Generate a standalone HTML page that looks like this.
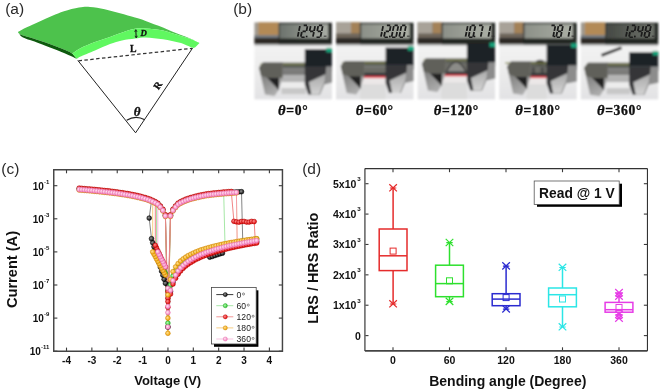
<!DOCTYPE html>
<html><head><meta charset="utf-8"><style>
#w{will-change:transform;position:absolute;left:0;top:0;}
html,body{margin:0;padding:0;background:#fff;width:660px;height:391px;overflow:hidden;font-family:"Liberation Sans", sans-serif;}
svg{display:block;}
</style></head><body><div id="w">
<svg width="660" height="391" viewBox="0 0 660 391" font-family='"Liberation Sans", sans-serif'><defs><filter id="blur1" x="-5%" y="-5%" width="110%" height="110%"><feGaussianBlur stdDeviation="0.9"/></filter><filter id="blur2" x="-5%" y="-5%" width="110%" height="110%"><feGaussianBlur stdDeviation="0.45"/></filter></defs><rect width="660" height="391" fill="#fff"/><text x="5.2" y="14.3" font-size="15.5" fill="#2a2a2a">(a)</text><path d="M17.80,32.00 C19.30,31.22 23.17,29.05 26.80,27.30 C30.43,25.55 35.33,23.42 39.60,21.50 C43.87,19.58 48.33,17.50 52.40,15.80 C56.47,14.10 59.57,12.67 64.00,11.30 C68.43,9.93 74.67,8.32 79.00,7.60 C83.33,6.88 85.72,6.72 90.00,7.00 C94.28,7.28 99.70,8.25 104.70,9.30 C109.70,10.35 114.95,11.92 120.00,13.30 C125.05,14.68 130.83,16.37 135.00,17.60 C139.17,18.83 141.83,19.58 145.00,20.70 C148.17,21.82 151.00,23.17 154.00,24.30 C157.00,25.43 160.00,26.30 163.00,27.50 C166.00,28.70 169.00,30.23 172.00,31.50 C175.00,32.77 177.88,33.88 181.00,35.10 C184.12,36.32 187.62,37.48 190.70,38.80 C193.78,40.12 198.03,42.30 199.50,43.00  C198.03,42.35 193.78,40.27 190.70,39.10 C187.62,37.93 184.12,36.97 181.00,36.00 C177.88,35.03 175.00,34.20 172.00,33.30 C169.00,32.40 166.00,31.28 163.00,30.60 C160.00,29.92 157.00,29.57 154.00,29.20 C151.00,28.83 148.17,28.47 145.00,28.40 C141.83,28.33 138.33,28.27 135.00,28.80 C131.67,29.33 129.17,30.25 125.00,31.60 C120.83,32.95 115.00,35.17 110.00,36.90 C105.00,38.63 100.00,40.08 95.00,42.00 C90.00,43.92 83.78,46.48 80.00,48.40 C76.22,50.32 73.58,52.65 72.30,53.50  C70.92,52.83 69.45,51.67 64.00,49.50 C58.55,47.33 46.65,42.92 39.60,40.50 C32.55,38.08 25.33,36.42 21.70,35.00 C18.07,33.58 18.45,32.50 17.80,32.00 Z" fill="#4dc24c"/><path d="M17.80,32.00 C18.45,32.50 18.07,33.58 21.70,35.00 C25.33,36.42 32.55,38.08 39.60,40.50 C46.65,42.92 58.55,47.33 64.00,49.50 C69.45,51.67 70.92,52.83 72.30,53.50 L77,59  C74.83,58.00 70.23,55.60 64.00,53.00 C57.77,50.40 46.43,45.98 39.60,43.40 C32.77,40.82 26.38,39.10 23.00,37.50 C19.62,35.90 20.17,34.72 19.30,33.80 C18.43,32.88 18.05,32.30 17.80,32.00 Z" fill="#0e5a0e"/><path d="M72.30,53.50 C73.58,52.65 76.22,50.32 80.00,48.40 C83.78,46.48 90.00,43.92 95.00,42.00 C100.00,40.08 105.00,38.63 110.00,36.90 C115.00,35.17 120.83,32.95 125.00,31.60 C129.17,30.25 131.67,29.33 135.00,28.80 C138.33,28.27 141.83,28.33 145.00,28.40 C148.17,28.47 151.00,28.83 154.00,29.20 C157.00,29.57 160.00,29.92 163.00,30.60 C166.00,31.28 169.00,32.40 172.00,33.30 C175.00,34.20 177.88,35.03 181.00,36.00 C184.12,36.97 187.62,37.93 190.70,39.10 C193.78,40.27 198.03,42.35 199.50,43.00 L195.3,47.3 L193.5,47.9  C193.07,47.80 192.98,48.10 190.90,47.30 C188.82,46.50 184.15,44.17 181.00,43.10 C177.85,42.03 175.00,41.55 172.00,40.90 C169.00,40.25 166.00,39.65 163.00,39.20 C160.00,38.75 157.00,38.50 154.00,38.20 C151.00,37.90 148.17,37.35 145.00,37.40 C141.83,37.45 138.83,37.98 135.00,38.50 C131.17,39.02 126.17,39.58 122.00,40.50 C117.83,41.42 114.50,42.35 110.00,44.00 C105.50,45.65 100.00,48.27 95.00,50.40 C90.00,52.53 83.00,55.37 80.00,56.80 C77.00,58.23 77.50,58.63 77.00,59.00 Z" fill="#60f860"/><line x1="78.5" y1="60.8" x2="192.3" y2="48.3" stroke="#333" stroke-width="1.25" stroke-dasharray="3.5,2.4"/><polyline points="77.8,60.4 135.6,132.8 192.5,48.2" fill="none" stroke="#222" stroke-width="1"/><path d="M126.7,120.2 Q135.6,114.6 144.8,119.8" fill="none" stroke="#222" stroke-width="1.2"/><text x="137" y="115.6" font-family='"Liberation Serif", serif' font-style="italic" font-weight="bold" font-size="13" text-anchor="middle" fill="#111" stroke="#111" stroke-width="0.35">&#952;</text><text x="0" y="0" transform="translate(160.5,87.3) rotate(-56)" font-family='"Liberation Serif", serif' font-weight="bold" font-size="10" text-anchor="middle" fill="#111" stroke="#111" stroke-width="0.3">R</text><text x="133.3" y="51.5" font-family='"Liberation Serif", serif' font-weight="bold" font-size="9.8" text-anchor="middle" fill="#111" stroke="#111" stroke-width="0.3">L</text><text x="143.8" y="36.1" font-family='"Liberation Serif", serif' font-style="italic" font-weight="bold" font-size="8.8" text-anchor="middle" fill="#111" stroke="#111" stroke-width="0.3">D</text><line x1="135.8" y1="30.2" x2="136.2" y2="37.2" stroke="#111" stroke-width="1"/><path d="M134.6,31.8 L135.8,29.6 L137,31.8 M135,35.8 L136.2,38 L137.4,35.8" fill="none" stroke="#111" stroke-width="0.8"/><text x="233.2" y="14.3" font-size="15.5" fill="#2a2a2a">(b)</text><g filter="url(#blur1)"><g transform="translate(254.4,22.4)"><defs><linearGradient id="lcdg254" x1="0" x2="1" y1="0" y2="0"><stop offset="0" stop-color="#6c726c"/><stop offset="1" stop-color="#a8aca4"/></linearGradient><linearGradient id="jl254" x1="0" x2="0.4" y1="0" y2="1"><stop offset="0" stop-color="#666664"/><stop offset="1" stop-color="#ababab"/></linearGradient><linearGradient id="jr254" x1="0" x2="0" y1="0" y2="1"><stop offset="0" stop-color="#a8a8a8"/><stop offset="1" stop-color="#d4d4d4"/></linearGradient><linearGradient id="bg254" x1="0" x2="0" y1="0" y2="1"><stop offset="0" stop-color="#f4f4f4"/><stop offset="0.5" stop-color="#ececec"/><stop offset="1" stop-color="#e2e2e4"/></linearGradient></defs><rect x="0" y="18" width="77.5" height="59" fill="url(#bg254)"/><rect x="0" y="0" width="25" height="20" fill="#a09a90"/><rect x="4" y="0" width="20" height="12.8" fill="#b38a56"/><rect x="0" y="12.8" width="25" height="3.2" fill="#747a80"/><rect x="0" y="15.5" width="25" height="6.2" fill="#2e2a26"/><rect x="0" y="21.7" width="77.5" height="1.6" fill="#b0b0b0"/><rect x="24.3" y="0.3" width="53.2" height="21.6" fill="#232523"/><rect x="25.2" y="1.8" width="48.5" height="14.3" fill="url(#lcdg254)"/><rect x="27.1" y="40.2" width="24.299999999999997" height="5.5" fill="#5c5e58"/><rect x="27.1" y="45.7" width="24.299999999999997" height="7" fill="#7c7c7a"/><rect x="27.1" y="52.7" width="24.299999999999997" height="7" fill="#b4b4b4"/><rect x="27.1" y="59.7" width="24.299999999999997" height="6" fill="#ececec"/><rect x="27.1" y="65.7" width="24.299999999999997" height="6" fill="#c8c8c8"/><rect x="6" y="41.2" width="44.4" height="1.2" fill="#7c8040"/><polygon points="4.600000000000001,45.2 8.600000000000001,40.2 28.1,40.2 28.1,55.400000000000006 24.1,67.80000000000001 20.1,73.7 10.600000000000001,72.2" fill="url(#jl254)"/><polygon points="4.600000000000001,45.2 8.600000000000001,40.2 28.1,40.2 28.1,55.400000000000006 12.8,55.400000000000006 6.600000000000001,53.2" fill="#60605a"/><polygon points="12.8,55.400000000000006 24.6,55.400000000000006 24.6,67.80000000000001" fill="#222"/><polygon points="50.4,43.7 77.5,43.7 77.5,48.2 71.4,58.2 65.4,72.2 53.9,72.2 50.4,62.2" fill="#353637"/><polygon points="71.9,43.7 77.5,43.7 77.5,60.2 70.4,62.2" fill="#8c8c8c"/><polygon points="54.4,59.7 71.4,51.7 70.4,59.2 64.9,72.2 56.9,72.2" fill="url(#jr254)"/><rect x="50.4" y="26.8" width="27.1" height="17.2" fill="#1d2226"/><rect x="71.9" y="25.5" width="5.6" height="4.4" fill="#17a37b"/></g><g transform="translate(336,22.4)"><defs><linearGradient id="lcdg336" x1="0" x2="1" y1="0" y2="0"><stop offset="0" stop-color="#8c9088"/><stop offset="1" stop-color="#abafa5"/></linearGradient><linearGradient id="jl336" x1="0" x2="0.4" y1="0" y2="1"><stop offset="0" stop-color="#666664"/><stop offset="1" stop-color="#ababab"/></linearGradient><linearGradient id="jr336" x1="0" x2="0" y1="0" y2="1"><stop offset="0" stop-color="#a8a8a8"/><stop offset="1" stop-color="#d4d4d4"/></linearGradient><linearGradient id="bg336" x1="0" x2="0" y1="0" y2="1"><stop offset="0" stop-color="#f4f4f4"/><stop offset="0.5" stop-color="#ececec"/><stop offset="1" stop-color="#e2e2e4"/></linearGradient></defs><rect x="0" y="18" width="77.5" height="59" fill="url(#bg336)"/><rect x="0" y="0" width="25" height="20" fill="#6e665c"/><rect x="0" y="0" width="15" height="11" fill="#a8a298"/><rect x="15" y="0" width="8.5" height="11" fill="#a48258"/><rect x="0" y="15.5" width="25" height="6.2" fill="#2e2a26"/><rect x="0" y="21.7" width="77.5" height="1.6" fill="#b0b0b0"/><rect x="24.3" y="0.3" width="53.2" height="21.6" fill="#232523"/><rect x="25.2" y="1.8" width="48.5" height="14.3" fill="url(#lcdg336)"/><rect x="27.2" y="38.7" width="23.400000000000002" height="5.5" fill="#5c5e58"/><rect x="27.2" y="44.2" width="23.400000000000002" height="9.699999999999996" fill="#6c6c66"/><rect x="27.2" y="50.4" width="23.400000000000002" height="3.5" fill="#38393a"/><rect x="24.2" y="53.9" width="25.400000000000002" height="1.9" fill="#ec2a3a"/><rect x="24.2" y="55.8" width="25.400000000000002" height="6" fill="#ece8e8"/><rect x="24.2" y="61.8" width="25.400000000000002" height="15.100000000000001" fill="#dcdcdc"/><rect x="6" y="39.7" width="43.6" height="1.2" fill="#7c8040"/><polygon points="4.699999999999999,43.7 8.7,38.7 28.2,38.7 28.2,53.900000000000006 24.2,66.30000000000001 20.2,72.2 10.7,70.7" fill="url(#jl336)"/><polygon points="4.699999999999999,43.7 8.7,38.7 28.2,38.7 28.2,53.900000000000006 12.899999999999999,53.900000000000006 6.699999999999999,51.7" fill="#60605a"/><polygon points="12.899999999999999,53.900000000000006 24.7,53.900000000000006 24.7,66.30000000000001" fill="#222"/><polygon points="49.6,42.2 77.5,42.2 77.5,46.7 70.6,56.7 64.6,70.7 53.1,70.7 49.6,60.7" fill="#353637"/><polygon points="71.1,42.2 77.5,42.2 77.5,58.7 69.6,60.7" fill="#8c8c8c"/><polygon points="53.6,58.2 70.6,50.2 69.6,57.7 64.1,70.7 56.1,70.7" fill="url(#jr336)"/><rect x="49.6" y="25.2" width="27.9" height="17.3" fill="#1d2226"/><rect x="71.9" y="23.9" width="5.6" height="4.4" fill="#17a37b"/></g><g transform="translate(417.6,22.4)"><defs><linearGradient id="lcdg417" x1="0" x2="1" y1="0" y2="0"><stop offset="0" stop-color="#8c9088"/><stop offset="1" stop-color="#abafa5"/></linearGradient><linearGradient id="jl417" x1="0" x2="0.4" y1="0" y2="1"><stop offset="0" stop-color="#666664"/><stop offset="1" stop-color="#ababab"/></linearGradient><linearGradient id="jr417" x1="0" x2="0" y1="0" y2="1"><stop offset="0" stop-color="#a8a8a8"/><stop offset="1" stop-color="#d4d4d4"/></linearGradient><linearGradient id="bg417" x1="0" x2="0" y1="0" y2="1"><stop offset="0" stop-color="#f4f4f4"/><stop offset="0.5" stop-color="#ececec"/><stop offset="1" stop-color="#e2e2e4"/></linearGradient></defs><rect x="0" y="18" width="77.5" height="59" fill="url(#bg417)"/><rect x="0" y="0" width="25" height="20" fill="#6e665c"/><rect x="0" y="0" width="15" height="11" fill="#a8a298"/><rect x="15" y="0" width="8.5" height="11" fill="#a48258"/><rect x="0" y="15.5" width="25" height="6.2" fill="#2e2a26"/><rect x="0" y="21.7" width="77.5" height="1.6" fill="#b0b0b0"/><rect x="24.3" y="0.3" width="53.2" height="21.6" fill="#232523"/><rect x="25.2" y="1.8" width="48.5" height="14.3" fill="url(#lcdg417)"/><rect x="26.8" y="36" width="23.499999999999996" height="5.5" fill="#5c5e58"/><rect x="26.8" y="41.5" width="23.499999999999996" height="10.700000000000003" fill="#6c6c66"/><rect x="26.8" y="48.7" width="23.499999999999996" height="3.5" fill="#38393a"/><path d="M28.8,49.2 Q38.55,30 48.3,49.2" fill="#8c8c88" stroke="#3a3a3a" stroke-width="1.4"/><rect x="23.8" y="52.2" width="25.499999999999996" height="1.9" fill="#ec2a3a"/><rect x="23.8" y="54.1" width="25.499999999999996" height="6" fill="#ece8e8"/><rect x="23.8" y="60.1" width="25.499999999999996" height="16.799999999999997" fill="#dcdcdc"/><rect x="6" y="37" width="43.3" height="1.2" fill="#7c8040"/><polygon points="4.300000000000001,41 8.3,36 27.8,36 27.8,51.2 23.8,63.6 19.8,69.5 10.3,68" fill="url(#jl417)"/><polygon points="4.300000000000001,41 8.3,36 27.8,36 27.8,51.2 12.5,51.2 6.300000000000001,49" fill="#60605a"/><polygon points="12.5,51.2 24.3,51.2 24.3,63.6" fill="#222"/><polygon points="49.3,39.5 77.5,39.5 77.5,44 70.3,54 64.3,68 52.8,68 49.3,58" fill="#353637"/><polygon points="70.8,39.5 77.5,39.5 77.5,56 69.3,58" fill="#8c8c8c"/><polygon points="53.3,55.5 70.3,47.5 69.3,55 63.8,68 55.8,68" fill="url(#jr417)"/><rect x="49.3" y="21.4" width="28.200000000000003" height="18.4" fill="#1d2226"/><rect x="71.9" y="20.099999999999998" width="5.6" height="4.4" fill="#17a37b"/></g><g transform="translate(499.2,22.4)"><defs><linearGradient id="lcdg499" x1="0" x2="1" y1="0" y2="0"><stop offset="0" stop-color="#8c9088"/><stop offset="1" stop-color="#abafa5"/></linearGradient><linearGradient id="jl499" x1="0" x2="0.4" y1="0" y2="1"><stop offset="0" stop-color="#666664"/><stop offset="1" stop-color="#ababab"/></linearGradient><linearGradient id="jr499" x1="0" x2="0" y1="0" y2="1"><stop offset="0" stop-color="#a8a8a8"/><stop offset="1" stop-color="#d4d4d4"/></linearGradient><linearGradient id="bg499" x1="0" x2="0" y1="0" y2="1"><stop offset="0" stop-color="#f4f4f4"/><stop offset="0.5" stop-color="#ececec"/><stop offset="1" stop-color="#e2e2e4"/></linearGradient></defs><rect x="0" y="18" width="77.5" height="59" fill="url(#bg499)"/><rect x="0" y="0" width="25" height="20" fill="#6e665c"/><rect x="0" y="0" width="15" height="11" fill="#a8a298"/><rect x="15" y="0" width="8.5" height="11" fill="#a48258"/><rect x="0" y="15.5" width="25" height="6.2" fill="#2e2a26"/><rect x="0" y="21.7" width="77.5" height="1.6" fill="#b0b0b0"/><rect x="24.3" y="0.3" width="53.2" height="21.6" fill="#232523"/><rect x="25.2" y="1.8" width="48.5" height="14.3" fill="url(#lcdg499)"/><rect x="30.4" y="39.1" width="18.0" height="5.5" fill="#5c5e58"/><rect x="30.4" y="44.6" width="18.0" height="9.399999999999999" fill="#6c6c66"/><rect x="30.4" y="50.5" width="18.0" height="3.5" fill="#38393a"/><ellipse cx="40.9" cy="39.9" rx="4.5" ry="2.6" fill="#3c3c3a"/><rect x="32.4" y="45.1" width="3.5" height="5.899999999999999" fill="#3a3a3a" opacity="0.6"/><rect x="41.4" y="45.1" width="3.5" height="5.899999999999999" fill="#3a3a3a" opacity="0.6"/><rect x="27.4" y="54" width="20.0" height="1.9" fill="#ec2a3a"/><rect x="27.4" y="55.9" width="20.0" height="6" fill="#ece8e8"/><rect x="27.4" y="61.9" width="20.0" height="15" fill="#dcdcdc"/><rect x="6" y="40.1" width="41.4" height="1.2" fill="#7c8040"/><polygon points="7.899999999999999,44.1 11.899999999999999,39.1 31.4,39.1 31.4,54.3 27.4,66.7 23.4,72.6 13.899999999999999,71.1" fill="url(#jl499)"/><polygon points="7.899999999999999,44.1 11.899999999999999,39.1 31.4,39.1 31.4,54.3 16.099999999999998,54.3 9.899999999999999,52.1" fill="#60605a"/><polygon points="16.099999999999998,54.3 27.9,54.3 27.9,66.7" fill="#222"/><polygon points="47.4,42.6 77.5,42.6 77.5,47.1 68.4,57.1 62.4,71.1 50.9,71.1 47.4,61.1" fill="#353637"/><polygon points="68.9,42.6 77.5,42.6 77.5,59.1 67.4,61.1" fill="#8c8c8c"/><polygon points="51.4,58.6 68.4,50.6 67.4,58.1 61.9,71.1 53.9,71.1" fill="url(#jr499)"/><rect x="47.4" y="22.2" width="30.1" height="20.7" fill="#1d2226"/><rect x="71.9" y="20.9" width="5.6" height="4.4" fill="#17a37b"/></g><g transform="translate(580.8,22.4)"><defs><linearGradient id="lcdg580" x1="0" x2="1" y1="0" y2="0"><stop offset="0" stop-color="#454944"/><stop offset="1" stop-color="#6e726a"/></linearGradient><linearGradient id="jl580" x1="0" x2="0.4" y1="0" y2="1"><stop offset="0" stop-color="#666664"/><stop offset="1" stop-color="#ababab"/></linearGradient><linearGradient id="jr580" x1="0" x2="0" y1="0" y2="1"><stop offset="0" stop-color="#a8a8a8"/><stop offset="1" stop-color="#d4d4d4"/></linearGradient><linearGradient id="bg580" x1="0" x2="0" y1="0" y2="1"><stop offset="0" stop-color="#f4f4f4"/><stop offset="0.5" stop-color="#ececec"/><stop offset="1" stop-color="#e2e2e4"/></linearGradient></defs><rect x="0" y="18" width="77.5" height="59" fill="url(#bg580)"/><rect x="0" y="0" width="25" height="20" fill="#a09a90"/><rect x="4" y="0" width="20" height="12.8" fill="#b38a56"/><rect x="0" y="12.8" width="25" height="3.2" fill="#747a80"/><rect x="0" y="15.5" width="25" height="6.2" fill="#2e2a26"/><rect x="0" y="21.7" width="77.5" height="1.6" fill="#b0b0b0"/><rect x="24.3" y="0.3" width="53.2" height="21.6" fill="#232523"/><rect x="25.2" y="1.8" width="48.5" height="14.3" fill="url(#lcdg580)"/><rect x="25.8" y="40.3" width="23.599999999999998" height="5.5" fill="#5c5e58"/><rect x="25.8" y="45.8" width="23.599999999999998" height="7" fill="#7c7c7a"/><rect x="25.8" y="52.8" width="23.599999999999998" height="7" fill="#b4b4b4"/><rect x="25.8" y="59.8" width="23.599999999999998" height="6" fill="#ececec"/><rect x="25.8" y="65.8" width="23.599999999999998" height="6" fill="#c8c8c8"/><rect x="6" y="41.3" width="42.4" height="1.2" fill="#7c8040"/><polygon points="3.3000000000000007,45.3 7.300000000000001,40.3 26.8,40.3 26.8,55.5 22.8,67.9 18.8,73.8 9.3,72.3" fill="url(#jl580)"/><polygon points="3.3000000000000007,45.3 7.300000000000001,40.3 26.8,40.3 26.8,55.5 11.5,55.5 5.300000000000001,53.3" fill="#60605a"/><polygon points="11.5,55.5 23.3,55.5 23.3,67.9" fill="#222"/><polygon points="48.4,43.8 77.5,43.8 77.5,48.3 69.4,58.3 63.4,72.3 51.9,72.3 48.4,62.3" fill="#353637"/><polygon points="69.9,43.8 77.5,43.8 77.5,60.3 68.4,62.3" fill="#8c8c8c"/><polygon points="52.4,59.8 69.4,51.8 68.4,59.3 62.9,72.3 54.9,72.3" fill="url(#jr580)"/><rect x="48.4" y="29.9" width="29.1" height="14.199999999999996" fill="#1d2226"/><rect x="71.9" y="28.599999999999998" width="5.6" height="4.4" fill="#17a37b"/><line x1="20.7" y1="33" x2="40.7" y2="25.3" stroke="#262626" stroke-width="2.8"/></g></g><g filter="url(#blur2)"><g transform="translate(254.4,22.4)"><rect x="69.30000000000001" y="13.1" width="2.8" height="1.4" fill="#333" opacity="0.7"/><path d="M45.48,3.70L44.54,8.40M44.30,9.60L43.36,14.30" stroke="#1a1a1a" stroke-width="1.75" fill="none" stroke-linecap="butt"/><path d="M49.30,3.10L52.60,3.10M53.08,3.70L52.14,8.40M48.12,9.00L51.42,9.00M47.40,9.60L46.46,14.30M46.94,14.90L50.24,14.90" stroke="#1a1a1a" stroke-width="1.75" fill="none" stroke-linecap="butt"/><rect x="51.44" y="13.30" width="1.6" height="1.6" fill="#141414"/><path d="M56.18,3.70L55.24,8.40M55.72,9.00L59.02,9.00M60.68,3.70L59.74,8.40M59.50,9.60L58.56,14.30" stroke="#1a1a1a" stroke-width="1.75" fill="none" stroke-linecap="butt"/><path d="M64.50,3.10L67.80,3.10M68.28,3.70L67.34,8.40M67.10,9.60L66.16,14.30M62.14,14.90L65.44,14.90M63.78,3.70L62.84,8.40M63.32,9.00L66.62,9.00" stroke="#1a1a1a" stroke-width="1.75" fill="none" stroke-linecap="butt"/></g><g transform="translate(336,22.4)"><rect x="70.9" y="13.1" width="2.8" height="1.4" fill="#333" opacity="0.7"/><path d="M47.08,3.70L46.14,8.40M45.90,9.60L44.96,14.30" stroke="#1a1a1a" stroke-width="1.75" fill="none" stroke-linecap="butt"/><path d="M50.90,3.10L54.20,3.10M54.68,3.70L53.74,8.40M49.72,9.00L53.02,9.00M49.00,9.60L48.06,14.30M48.54,14.90L51.84,14.90" stroke="#1a1a1a" stroke-width="1.75" fill="none" stroke-linecap="butt"/><rect x="53.04" y="13.30" width="1.6" height="1.6" fill="#141414"/><path d="M58.50,3.10L61.80,3.10M62.28,3.70L61.34,8.40M61.10,9.60L60.16,14.30M56.14,14.90L59.44,14.90M56.60,9.60L55.66,14.30M57.78,3.70L56.84,8.40" stroke="#1a1a1a" stroke-width="1.75" fill="none" stroke-linecap="butt"/><path d="M66.10,3.10L69.40,3.10M69.88,3.70L68.94,8.40M68.70,9.60L67.76,14.30M63.74,14.90L67.04,14.90M64.20,9.60L63.26,14.30M65.38,3.70L64.44,8.40" stroke="#1a1a1a" stroke-width="1.75" fill="none" stroke-linecap="butt"/></g><g transform="translate(417.6,22.4)"><rect x="73.9" y="13.1" width="2.8" height="1.4" fill="#333" opacity="0.7"/><path d="M50.08,3.70L49.14,8.40M48.90,9.60L47.96,14.30" stroke="#1a1a1a" stroke-width="1.75" fill="none" stroke-linecap="butt"/><path d="M53.90,3.10L57.20,3.10M57.68,3.70L56.74,8.40M56.50,9.60L55.56,14.30M51.54,14.90L54.84,14.90M52.00,9.60L51.06,14.30M53.18,3.70L52.24,8.40" stroke="#1a1a1a" stroke-width="1.75" fill="none" stroke-linecap="butt"/><rect x="56.04" y="13.30" width="1.6" height="1.6" fill="#141414"/><path d="M61.50,3.10L64.80,3.10M65.28,3.70L64.34,8.40M64.10,9.60L63.16,14.30" stroke="#1a1a1a" stroke-width="1.75" fill="none" stroke-linecap="butt"/><path d="M72.88,3.70L71.94,8.40M71.70,9.60L70.76,14.30" stroke="#1a1a1a" stroke-width="1.75" fill="none" stroke-linecap="butt"/></g><g transform="translate(499.2,22.4)"><rect x="72.30000000000001" y="13.1" width="2.8" height="1.4" fill="#333" opacity="0.7"/><path d="M52.30,3.10L55.60,3.10M56.08,3.70L55.14,8.40M54.90,9.60L53.96,14.30" stroke="#1a1a1a" stroke-width="1.75" fill="none" stroke-linecap="butt"/><rect x="54.44" y="13.30" width="1.6" height="1.6" fill="#141414"/><path d="M59.90,3.10L63.20,3.10M63.68,3.70L62.74,8.40M62.50,9.60L61.56,14.30M57.54,14.90L60.84,14.90M58.00,9.60L57.06,14.30M59.18,3.70L58.24,8.40M58.72,9.00L62.02,9.00" stroke="#1a1a1a" stroke-width="1.75" fill="none" stroke-linecap="butt"/><path d="M71.28,3.70L70.34,8.40M70.10,9.60L69.16,14.30" stroke="#1a1a1a" stroke-width="1.75" fill="none" stroke-linecap="butt"/></g><g transform="translate(580.8,22.4)"><rect x="71.10000000000001" y="13.1" width="2.8" height="1.4" fill="#333" opacity="0.7"/><path d="M47.28,3.70L46.34,8.40M46.10,9.60L45.16,14.30" stroke="#1a1a1a" stroke-width="1.75" fill="none" stroke-linecap="butt"/><path d="M51.10,3.10L54.40,3.10M54.88,3.70L53.94,8.40M49.92,9.00L53.22,9.00M49.20,9.60L48.26,14.30M48.74,14.90L52.04,14.90" stroke="#1a1a1a" stroke-width="1.75" fill="none" stroke-linecap="butt"/><rect x="53.24" y="13.30" width="1.6" height="1.6" fill="#141414"/><path d="M57.98,3.70L57.04,8.40M57.52,9.00L60.82,9.00M62.48,3.70L61.54,8.40M61.30,9.60L60.36,14.30" stroke="#1a1a1a" stroke-width="1.75" fill="none" stroke-linecap="butt"/><path d="M66.30,3.10L69.60,3.10M70.08,3.70L69.14,8.40M68.90,9.60L67.96,14.30M63.94,14.90L67.24,14.90M64.40,9.60L63.46,14.30M65.58,3.70L64.64,8.40M65.12,9.00L68.42,9.00" stroke="#1a1a1a" stroke-width="1.75" fill="none" stroke-linecap="butt"/></g></g><text x="293.15" y="114.8" font-family='"Liberation Serif", serif' font-size="13.6" font-weight="bold" text-anchor="middle" letter-spacing="0.7" fill="#111" stroke="#111" stroke-width="0.35"><tspan font-style="italic" font-size="14.5">&#952;</tspan>=0&#176;</text><text x="374.75" y="114.8" font-family='"Liberation Serif", serif' font-size="13.6" font-weight="bold" text-anchor="middle" letter-spacing="0.7" fill="#111" stroke="#111" stroke-width="0.35"><tspan font-style="italic" font-size="14.5">&#952;</tspan>=60&#176;</text><text x="456.35" y="114.8" font-family='"Liberation Serif", serif' font-size="13.6" font-weight="bold" text-anchor="middle" letter-spacing="0.7" fill="#111" stroke="#111" stroke-width="0.35"><tspan font-style="italic" font-size="14.5">&#952;</tspan>=120&#176;</text><text x="537.95" y="114.8" font-family='"Liberation Serif", serif' font-size="13.6" font-weight="bold" text-anchor="middle" letter-spacing="0.7" fill="#111" stroke="#111" stroke-width="0.35"><tspan font-style="italic" font-size="14.5">&#952;</tspan>=180&#176;</text><text x="619.55" y="114.8" font-family='"Liberation Serif", serif' font-size="13.6" font-weight="bold" text-anchor="middle" letter-spacing="0.7" fill="#111" stroke="#111" stroke-width="0.35"><tspan font-style="italic" font-size="14.5">&#952;</tspan>=360&#176;</text><text x="1.3" y="173.5" font-size="15.5" fill="#2a2a2a">(c)</text><line x1="66.51" y1="351.2" x2="66.51" y2="347.59999999999997" stroke="#3a3a3a" stroke-width="1.1"/><line x1="66.51" y1="169.7" x2="66.51" y2="173.29999999999998" stroke="#3a3a3a" stroke-width="1.1"/><text x="66.51" y="363.6" font-size="10" font-weight="bold" text-anchor="middle" fill="#111">-4</text><line x1="91.87" y1="351.2" x2="91.87" y2="347.59999999999997" stroke="#3a3a3a" stroke-width="1.1"/><line x1="91.87" y1="169.7" x2="91.87" y2="173.29999999999998" stroke="#3a3a3a" stroke-width="1.1"/><text x="91.87" y="363.6" font-size="10" font-weight="bold" text-anchor="middle" fill="#111">-3</text><line x1="117.23" y1="351.2" x2="117.23" y2="347.59999999999997" stroke="#3a3a3a" stroke-width="1.1"/><line x1="117.23" y1="169.7" x2="117.23" y2="173.29999999999998" stroke="#3a3a3a" stroke-width="1.1"/><text x="117.23" y="363.6" font-size="10" font-weight="bold" text-anchor="middle" fill="#111">-2</text><line x1="142.59" y1="351.2" x2="142.59" y2="347.59999999999997" stroke="#3a3a3a" stroke-width="1.1"/><line x1="142.59" y1="169.7" x2="142.59" y2="173.29999999999998" stroke="#3a3a3a" stroke-width="1.1"/><text x="142.59" y="363.6" font-size="10" font-weight="bold" text-anchor="middle" fill="#111">-1</text><line x1="167.95" y1="351.2" x2="167.95" y2="347.59999999999997" stroke="#3a3a3a" stroke-width="1.1"/><line x1="167.95" y1="169.7" x2="167.95" y2="173.29999999999998" stroke="#3a3a3a" stroke-width="1.1"/><text x="167.95" y="363.6" font-size="10" font-weight="bold" text-anchor="middle" fill="#111">0</text><line x1="193.31" y1="351.2" x2="193.31" y2="347.59999999999997" stroke="#3a3a3a" stroke-width="1.1"/><line x1="193.31" y1="169.7" x2="193.31" y2="173.29999999999998" stroke="#3a3a3a" stroke-width="1.1"/><text x="193.31" y="363.6" font-size="10" font-weight="bold" text-anchor="middle" fill="#111">1</text><line x1="218.67" y1="351.2" x2="218.67" y2="347.59999999999997" stroke="#3a3a3a" stroke-width="1.1"/><line x1="218.67" y1="169.7" x2="218.67" y2="173.29999999999998" stroke="#3a3a3a" stroke-width="1.1"/><text x="218.67" y="363.6" font-size="10" font-weight="bold" text-anchor="middle" fill="#111">2</text><line x1="244.03" y1="351.2" x2="244.03" y2="347.59999999999997" stroke="#3a3a3a" stroke-width="1.1"/><line x1="244.03" y1="169.7" x2="244.03" y2="173.29999999999998" stroke="#3a3a3a" stroke-width="1.1"/><text x="244.03" y="363.6" font-size="10" font-weight="bold" text-anchor="middle" fill="#111">3</text><line x1="269.39" y1="351.2" x2="269.39" y2="347.59999999999997" stroke="#3a3a3a" stroke-width="1.1"/><line x1="269.39" y1="169.7" x2="269.39" y2="173.29999999999998" stroke="#3a3a3a" stroke-width="1.1"/><text x="269.39" y="363.6" font-size="10" font-weight="bold" text-anchor="middle" fill="#111">4</text><line x1="53.75" y1="185.70" x2="57.35" y2="185.70" stroke="#3a3a3a" stroke-width="1.1"/><line x1="282.45" y1="185.70" x2="278.84999999999997" y2="185.70" stroke="#3a3a3a" stroke-width="1.1"/><text x="49.4" y="189.50" font-size="10" font-weight="bold" text-anchor="end" fill="#111">10<tspan font-size="6" dy="-5.6" dx="0.3">-1</tspan></text><line x1="53.75" y1="218.80" x2="57.35" y2="218.80" stroke="#3a3a3a" stroke-width="1.1"/><line x1="282.45" y1="218.80" x2="278.84999999999997" y2="218.80" stroke="#3a3a3a" stroke-width="1.1"/><text x="49.4" y="222.60" font-size="10" font-weight="bold" text-anchor="end" fill="#111">10<tspan font-size="6" dy="-5.6" dx="0.3">-3</tspan></text><line x1="53.75" y1="251.90" x2="57.35" y2="251.90" stroke="#3a3a3a" stroke-width="1.1"/><line x1="282.45" y1="251.90" x2="278.84999999999997" y2="251.90" stroke="#3a3a3a" stroke-width="1.1"/><text x="49.4" y="255.70" font-size="10" font-weight="bold" text-anchor="end" fill="#111">10<tspan font-size="6" dy="-5.6" dx="0.3">-5</tspan></text><line x1="53.75" y1="285.00" x2="57.35" y2="285.00" stroke="#3a3a3a" stroke-width="1.1"/><line x1="282.45" y1="285.00" x2="278.84999999999997" y2="285.00" stroke="#3a3a3a" stroke-width="1.1"/><text x="49.4" y="288.80" font-size="10" font-weight="bold" text-anchor="end" fill="#111">10<tspan font-size="6" dy="-5.6" dx="0.3">-7</tspan></text><line x1="53.75" y1="318.10" x2="57.35" y2="318.10" stroke="#3a3a3a" stroke-width="1.1"/><line x1="282.45" y1="318.10" x2="278.84999999999997" y2="318.10" stroke="#3a3a3a" stroke-width="1.1"/><text x="49.4" y="321.90" font-size="10" font-weight="bold" text-anchor="end" fill="#111">10<tspan font-size="6" dy="-5.6" dx="0.3">-9</tspan></text><line x1="53.75" y1="351.20" x2="57.35" y2="351.20" stroke="#3a3a3a" stroke-width="1.1"/><line x1="282.45" y1="351.20" x2="278.84999999999997" y2="351.20" stroke="#3a3a3a" stroke-width="1.1"/><text x="49.4" y="355.00" font-size="10" font-weight="bold" text-anchor="end" fill="#111">10<tspan font-size="6" dy="-5.6" dx="0.3">-11</tspan></text><path d="M53.75,169.7 H282.45 V351.2 H53.75 Z" fill="none" stroke="#444" stroke-width="1.45"/><text x="167.7" y="384.9" font-size="13" font-weight="bold" text-anchor="middle" fill="#111">Voltage (V)</text><text transform="translate(16.6,269.5) rotate(-90)" font-size="14.6" font-weight="bold" text-anchor="middle" fill="#111">Current (A)</text><defs><radialGradient id="mk" cx="0.4" cy="0.4" r="0.6"><stop offset="0" stop-color="#9a9a9a"/><stop offset="1" stop-color="#000"/></radialGradient><radialGradient id="mg" cx="0.4" cy="0.4" r="0.6"><stop offset="0" stop-color="#b0ffb0"/><stop offset="1" stop-color="#28c028"/></radialGradient><radialGradient id="mr" cx="0.4" cy="0.4" r="0.6"><stop offset="0" stop-color="#ff9090"/><stop offset="1" stop-color="#e00000"/></radialGradient><radialGradient id="mo" cx="0.4" cy="0.4" r="0.6"><stop offset="0" stop-color="#ffe090"/><stop offset="1" stop-color="#f0a000"/></radialGradient><radialGradient id="mp" cx="0.4" cy="0.4" r="0.6"><stop offset="0" stop-color="#ffe4f2"/><stop offset="1" stop-color="#f47cbc"/></radialGradient></defs><polyline points="167.9,327.0 170.5,215.5 173.0,210.0 175.6,206.6 178.1,203.9 180.6,202.4 183.2,201.1 185.7,200.1 188.2,199.2 190.8,198.3 193.3,197.6 195.8,197.0 198.4,196.4 200.9,195.8 203.5,195.3 206.0,194.8 208.5,194.5 211.1,194.2 213.6,193.9 216.1,193.6 218.7,193.3 221.2,193.1 223.7,192.9 226.3,192.7 228.8,192.5 231.3,192.3 233.9,192.1 236.4,192.0 239.0,191.8 241.5,191.7 242.8,244.2 256.7,241.8 254.2,242.2 251.6,242.6 249.1,243.0 246.6,243.5 244.0,243.9 241.5,244.4 239.0,244.9 236.4,245.4 233.9,246.0 231.3,246.5 228.8,247.1 226.3,247.7 223.7,248.3 221.2,248.9 218.7,249.6 216.1,250.4 213.6,251.1 211.1,251.9 208.5,252.8 206.0,253.7 203.5,254.6 200.9,255.7 198.4,256.8 195.8,258.0 193.3,259.3 190.8,260.8 188.2,262.5 185.7,264.3 183.2,266.5 180.6,269.1 178.1,272.2 175.6,276.2 173.0,281.9 170.5,291.6 167.9,327.0 165.4,283.3 164.1,279.3 162.9,275.2 161.6,271.2 160.3,267.1 159.1,263.0 157.8,259.0 156.5,254.9 155.3,250.8 154.0,246.8 152.7,242.7 151.5,238.7 149.2,218.1 151.5,200.6 148.9,199.6 146.4,198.7 143.9,198.0 141.3,197.3 138.8,196.7 136.2,196.1 133.7,195.5 131.2,195.1 128.6,194.6 126.1,194.2 123.6,193.8 121.0,193.4 118.5,193.0 116.0,192.7 113.4,192.3 110.9,192.0 108.4,191.7 105.8,191.4 103.3,191.2 100.7,190.9 98.2,190.6 95.7,190.4 93.1,190.2 90.6,189.9 88.1,189.7 85.5,189.5 83.0,189.3 80.5,189.1 79.2,189.0 81.7,189.2 84.3,189.4 86.8,189.6 89.3,189.8 91.9,190.0 94.4,190.3 96.9,190.5 99.5,190.8 102.0,191.0 104.5,191.3 107.1,191.6 109.6,191.9 112.2,192.2 114.7,192.5 117.2,192.8 119.8,193.2 122.3,193.6 124.8,194.0 127.4,194.4 129.9,194.8 132.4,195.3 135.0,195.8 137.5,196.4 140.1,197.0 142.6,197.6 145.1,198.3 147.7,199.2 150.2,200.1 152.7,201.1 155.3,202.4 157.8,203.9 160.3,206.6 162.9,210.0 165.4,215.5 167.9,327.0" fill="none" stroke="#333" stroke-width="0.6"/><polyline points="209.8,257.2 212.3,256.4 214.9,255.5 217.4,254.7 219.9,253.9 222.5,253.1" fill="none" stroke="#222" stroke-width="1"/><polyline points="167.9,323.1 170.5,215.5 173.0,210.0 175.6,206.6 178.1,203.9 180.6,202.4 183.2,201.1 185.7,200.1 188.2,199.2 190.8,198.3 193.3,197.6 195.8,197.0 198.4,196.4 200.9,195.8 203.5,195.3 206.0,194.8 208.5,194.5 211.1,194.2 213.6,193.9 216.1,193.6 218.7,193.3 221.2,193.1 223.7,192.9 225.0,244.7 256.7,239.0 254.2,239.4 251.6,239.8 249.1,240.2 246.6,240.6 244.0,241.0 241.5,241.4 239.0,241.9 236.4,242.4 233.9,242.8 231.3,243.4 228.8,243.9 226.3,244.4 223.7,245.0 221.2,245.6 218.7,246.2 216.1,246.9 213.6,247.6 211.1,248.3 208.5,249.1 206.0,250.0 203.5,250.9 200.9,251.8 198.4,252.9 195.8,254.0 193.3,255.2 190.8,256.6 188.2,258.1 185.7,259.8 183.2,261.8 180.6,264.2 178.1,267.1 175.6,270.8 173.0,276.0 170.5,285.0 167.9,323.1 165.4,273.4 164.1,271.1 162.9,268.7 161.6,266.3 160.3,264.0 159.1,261.6 157.8,259.2 156.5,256.9 156.5,203.1 154.0,201.7 151.5,200.6 148.9,199.6 146.4,198.7 143.9,198.0 141.3,197.3 138.8,196.7 136.2,196.1 133.7,195.5 131.2,195.1 128.6,194.6 126.1,194.2 123.6,193.8 121.0,193.4 118.5,193.0 116.0,192.7 113.4,192.3 110.9,192.0 108.4,191.7 105.8,191.4 103.3,191.2 100.7,190.9 98.2,190.6 95.7,190.4 93.1,190.2 90.6,189.9 88.1,189.7 85.5,189.5 83.0,189.3 80.5,189.1 79.2,189.0 81.7,189.2 84.3,189.4 86.8,189.6 89.3,189.8 91.9,190.0 94.4,190.3 96.9,190.5 99.5,190.8 102.0,191.0 104.5,191.3 107.1,191.6 109.6,191.9 112.2,192.2 114.7,192.5 117.2,192.8 119.8,193.2 122.3,193.6 124.8,194.0 127.4,194.4 129.9,194.8 132.4,195.3 135.0,195.8 137.5,196.4 140.1,197.0 142.6,197.6 145.1,198.3 147.7,199.2 150.2,200.1 152.7,201.1 155.3,202.4 157.8,203.9 160.3,206.6 162.9,210.0 165.4,215.5 167.9,323.1" fill="none" stroke="#6ad66a" stroke-width="0.6"/><polyline points="167.9,307.2 170.5,214.7 173.0,209.2 175.6,205.8 178.1,203.1 180.6,201.6 183.2,200.3 185.7,199.2 188.2,198.3 190.8,197.5 193.3,196.8 195.8,196.1 198.4,195.5 200.9,195.0 203.5,194.5 206.0,194.0 208.5,193.6 211.1,193.3 213.6,193.0 216.1,192.8 218.7,192.5 221.2,192.3 223.7,192.0 226.3,191.8 228.8,191.6 231.3,191.5 233.9,221.3 236.4,221.9 239.0,222.2 241.5,221.5 244.0,221.4 246.6,222.1 249.1,222.1 251.6,221.4 254.2,221.6 255.4,243.2 256.7,243.0 254.2,243.4 251.6,243.8 249.1,244.3 246.6,244.7 244.0,245.2 241.5,245.7 239.0,246.2 236.4,246.7 233.9,247.3 231.3,247.8 228.8,248.4 226.3,249.0 223.7,249.7 221.2,250.3 218.7,251.0 216.1,251.8 213.6,252.6 211.1,253.4 208.5,254.2 206.0,255.2 203.5,256.2 200.9,257.2 198.4,258.4 195.8,259.6 193.3,261.0 190.8,262.5 188.2,264.2 185.7,266.1 183.2,268.3 180.6,271.0 178.1,274.2 175.6,278.3 173.0,284.1 170.5,294.1 167.9,307.2 165.4,266.8 164.1,264.1 162.9,261.4 161.6,258.7 160.3,256.0 159.1,253.3 157.8,250.7 156.5,248.0 155.3,245.3 155.3,201.6 152.7,200.3 150.2,199.2 147.7,198.3 145.1,197.5 142.6,196.8 140.1,196.1 137.5,195.5 135.0,195.0 132.4,194.5 129.9,194.0 127.4,193.5 124.8,193.1 122.3,192.7 119.8,192.4 117.2,192.0 114.7,191.7 112.2,191.3 109.6,191.0 107.1,190.7 104.5,190.5 102.0,190.2 99.5,189.9 96.9,189.7 94.4,189.4 91.9,189.2 89.3,189.0 86.8,188.8 84.3,188.6 81.7,188.3 79.2,188.1 79.2,188.1 81.7,188.3 84.3,188.6 86.8,188.8 89.3,189.0 91.9,189.2 94.4,189.4 96.9,189.7 99.5,189.9 102.0,190.2 104.5,190.5 107.1,190.7 109.6,191.0 112.2,191.3 114.7,191.7 117.2,192.0 119.8,192.4 122.3,192.7 124.8,193.1 127.4,193.5 129.9,194.0 132.4,194.5 135.0,195.0 137.5,195.5 140.1,196.1 142.6,196.8 145.1,197.5 147.7,198.3 150.2,199.2 152.7,200.3 155.3,201.6 157.8,203.1 160.3,205.8 162.9,209.2 165.4,214.7 167.9,307.2" fill="none" stroke="#e83030" stroke-width="0.6"/><polyline points="167.9,333.3 170.5,216.5 173.0,211.0 175.6,207.6 178.1,204.9 180.6,203.4 183.2,202.1 185.7,201.1 188.2,200.1 190.8,199.3 193.3,198.6 195.8,198.0 198.4,197.4 200.9,196.8 203.5,196.3 206.0,195.8 208.5,195.5 211.1,195.1 213.6,194.9 216.1,194.6 218.7,194.3 221.2,194.1 223.7,193.9 226.3,193.7 228.8,193.5 231.3,193.3 233.9,193.1 236.4,192.9 237.2,241.5 256.7,238.7 254.2,239.0 251.6,239.3 249.1,239.7 246.6,240.0 244.0,240.4 241.5,240.8 239.0,241.2 236.4,241.6 233.9,242.1 231.3,242.5 228.8,243.0 226.3,243.5 223.7,244.0 221.2,244.5 218.7,245.1 216.1,245.7 213.6,246.3 211.1,247.0 208.5,247.7 206.0,248.4 203.5,249.2 200.9,250.0 198.4,251.0 195.8,252.0 193.3,253.1 190.8,254.3 188.2,255.6 185.7,257.2 183.2,258.9 180.6,261.0 178.1,263.6 175.6,266.9 173.0,271.6 170.5,279.5 167.9,333.3 165.4,275.1 164.1,272.8 162.9,270.4 161.6,268.1 160.3,265.8 159.1,263.5 157.8,261.2 156.5,258.9 155.3,256.5 154.0,254.2 152.7,251.9 152.7,202.1 150.2,201.1 147.7,200.1 145.1,199.3 142.6,198.6 140.1,198.0 137.5,197.4 135.0,196.8 132.4,196.3 129.9,195.8 127.4,195.4 124.8,194.9 122.3,194.6 119.8,194.2 117.2,193.8 114.7,193.5 112.2,193.2 109.6,192.9 107.1,192.6 104.5,192.3 102.0,192.0 99.5,191.8 96.9,191.5 94.4,191.3 91.9,191.0 89.3,190.8 86.8,190.6 84.3,190.4 81.7,190.2 79.2,190.0 79.2,190.0 81.7,190.2 84.3,190.4 86.8,190.6 89.3,190.8 91.9,191.0 94.4,191.3 96.9,191.5 99.5,191.8 102.0,192.0 104.5,192.3 107.1,192.6 109.6,192.9 112.2,193.2 114.7,193.5 117.2,193.8 119.8,194.2 122.3,194.6 124.8,194.9 127.4,195.4 129.9,195.8 132.4,196.3 135.0,196.8 137.5,197.4 140.1,198.0 142.6,198.6 145.1,199.3 147.7,200.1 150.2,201.1 152.7,202.1 155.3,203.4 157.8,204.9 160.3,207.6 162.9,211.0 165.4,216.5 167.9,333.3" fill="none" stroke="#f0b030" stroke-width="0.6"/><polyline points="167.9,312.6 170.5,216.0 173.0,210.5 175.6,207.1 178.1,204.4 180.6,202.9 183.2,201.6 185.7,200.6 188.2,199.7 190.8,198.8 193.3,198.1 195.8,197.5 198.4,196.9 200.9,196.3 203.5,195.8 206.0,195.3 208.5,195.0 211.1,194.6 213.6,194.4 216.1,194.1 218.7,193.8 221.2,193.6 223.7,193.4 226.3,193.2 228.8,193.0 231.3,192.8 233.9,192.6 236.4,192.5 237.2,244.1 256.7,240.6 254.2,241.0 251.6,241.5 249.1,241.9 246.6,242.3 244.0,242.8 241.5,243.3 239.0,243.8 236.4,244.3 233.9,244.8 231.3,245.3 228.8,245.9 226.3,246.5 223.7,247.1 221.2,247.8 218.7,248.5 216.1,249.2 213.6,250.0 211.1,250.8 208.5,251.6 206.0,252.5 203.5,253.5 200.9,254.5 198.4,255.6 195.8,256.9 193.3,258.2 190.8,259.7 188.2,261.3 185.7,263.2 183.2,265.3 180.6,267.9 178.1,271.0 175.6,275.1 173.0,280.7 170.5,290.5 167.9,312.6 165.4,266.8 164.1,264.3 162.9,261.8 161.6,259.3 160.3,256.9 159.1,254.4 157.8,251.9 157.8,204.4 155.3,202.9 152.7,201.6 150.2,200.6 147.7,199.7 145.1,198.8 142.6,198.1 140.1,197.5 137.5,196.9 135.0,196.3 132.4,195.8 129.9,195.3 127.4,194.9 124.8,194.5 122.3,194.1 119.8,193.7 117.2,193.3 114.7,193.0 112.2,192.7 109.6,192.4 107.1,192.1 104.5,191.8 102.0,191.5 99.5,191.3 96.9,191.0 94.4,190.8 91.9,190.5 89.3,190.3 86.8,190.1 84.3,189.9 81.7,189.7 79.2,189.5 79.2,189.5 81.7,189.7 84.3,189.9 86.8,190.1 89.3,190.3 91.9,190.5 94.4,190.8 96.9,191.0 99.5,191.3 102.0,191.5 104.5,191.8 107.1,192.1 109.6,192.4 112.2,192.7 114.7,193.0 117.2,193.3 119.8,193.7 122.3,194.1 124.8,194.5 127.4,194.9 129.9,195.3 132.4,195.8 135.0,196.3 137.5,196.9 140.1,197.5 142.6,198.1 145.1,198.8 147.7,199.7 150.2,200.6 152.7,201.6 155.3,202.9 157.8,204.4 160.3,207.1 162.9,210.5 165.4,216.0 167.9,312.6" fill="none" stroke="#f080c0" stroke-width="0.6"/><g fill="url(#mk)" stroke="#000" stroke-width="0.5"><circle cx="167.9" cy="327.0" r="2.4"/><circle cx="167.9" cy="285.0" r="2.4"/><circle cx="167.9" cy="327.0" r="2.4"/><circle cx="170.5" cy="215.5" r="2.4"/><circle cx="173.0" cy="210.0" r="2.4"/><circle cx="175.6" cy="206.6" r="2.4"/><circle cx="178.1" cy="203.9" r="2.4"/><circle cx="180.6" cy="202.4" r="2.4"/><circle cx="183.2" cy="201.1" r="2.4"/><circle cx="185.7" cy="200.1" r="2.4"/><circle cx="188.2" cy="199.2" r="2.4"/><circle cx="190.8" cy="198.3" r="2.4"/><circle cx="193.3" cy="197.6" r="2.4"/><circle cx="195.8" cy="197.0" r="2.4"/><circle cx="198.4" cy="196.4" r="2.4"/><circle cx="200.9" cy="195.8" r="2.4"/><circle cx="203.5" cy="195.3" r="2.4"/><circle cx="206.0" cy="194.8" r="2.4"/><circle cx="208.5" cy="194.5" r="2.4"/><circle cx="211.1" cy="194.2" r="2.4"/><circle cx="213.6" cy="193.9" r="2.4"/><circle cx="216.1" cy="193.6" r="2.4"/><circle cx="218.7" cy="193.3" r="2.4"/><circle cx="221.2" cy="193.1" r="2.4"/><circle cx="223.7" cy="192.9" r="2.4"/><circle cx="226.3" cy="192.7" r="2.4"/><circle cx="228.8" cy="192.5" r="2.4"/><circle cx="231.3" cy="192.3" r="2.4"/><circle cx="233.9" cy="192.1" r="2.4"/><circle cx="236.4" cy="192.0" r="2.4"/><circle cx="239.0" cy="191.8" r="2.4"/><circle cx="241.5" cy="191.7" r="2.4"/><circle cx="170.5" cy="291.6" r="2.4"/><circle cx="173.0" cy="281.9" r="2.4"/><circle cx="175.6" cy="276.2" r="2.4"/><circle cx="178.1" cy="272.2" r="2.4"/><circle cx="180.6" cy="269.1" r="2.4"/><circle cx="183.2" cy="266.5" r="2.4"/><circle cx="185.7" cy="264.3" r="2.4"/><circle cx="188.2" cy="262.5" r="2.4"/><circle cx="190.8" cy="260.8" r="2.4"/><circle cx="193.3" cy="259.3" r="2.4"/><circle cx="195.8" cy="258.0" r="2.4"/><circle cx="198.4" cy="256.8" r="2.4"/><circle cx="200.9" cy="255.7" r="2.4"/><circle cx="203.5" cy="254.6" r="2.4"/><circle cx="206.0" cy="253.7" r="2.4"/><circle cx="208.5" cy="252.8" r="2.4"/><circle cx="211.1" cy="251.9" r="2.4"/><circle cx="213.6" cy="251.1" r="2.4"/><circle cx="216.1" cy="250.4" r="2.4"/><circle cx="218.7" cy="249.6" r="2.4"/><circle cx="221.2" cy="248.9" r="2.4"/><circle cx="223.7" cy="248.3" r="2.4"/><circle cx="226.3" cy="247.7" r="2.4"/><circle cx="228.8" cy="247.1" r="2.4"/><circle cx="231.3" cy="246.5" r="2.4"/><circle cx="233.9" cy="246.0" r="2.4"/><circle cx="236.4" cy="245.4" r="2.4"/><circle cx="239.0" cy="244.9" r="2.4"/><circle cx="241.5" cy="244.4" r="2.4"/><circle cx="244.0" cy="243.9" r="2.4"/><circle cx="246.6" cy="243.5" r="2.4"/><circle cx="249.1" cy="243.0" r="2.4"/><circle cx="251.6" cy="242.6" r="2.4"/><circle cx="254.2" cy="242.2" r="2.4"/><circle cx="256.7" cy="241.8" r="2.4"/><circle cx="165.4" cy="283.3" r="2.4"/><circle cx="164.1" cy="279.3" r="2.4"/><circle cx="162.9" cy="275.2" r="2.4"/><circle cx="161.6" cy="271.2" r="2.4"/><circle cx="160.3" cy="267.1" r="2.4"/><circle cx="159.1" cy="263.0" r="2.4"/><circle cx="157.8" cy="259.0" r="2.4"/><circle cx="156.5" cy="254.9" r="2.4"/><circle cx="155.3" cy="250.8" r="2.4"/><circle cx="154.0" cy="246.8" r="2.4"/><circle cx="152.7" cy="242.7" r="2.4"/><circle cx="151.5" cy="238.7" r="2.4"/><circle cx="149.2" cy="218.1" r="2.4"/><circle cx="79.2" cy="189.0" r="2.4"/><circle cx="81.7" cy="189.2" r="2.4"/><circle cx="84.3" cy="189.4" r="2.4"/><circle cx="86.8" cy="189.6" r="2.4"/><circle cx="89.3" cy="189.8" r="2.4"/><circle cx="91.9" cy="190.0" r="2.4"/><circle cx="94.4" cy="190.3" r="2.4"/><circle cx="96.9" cy="190.5" r="2.4"/><circle cx="99.5" cy="190.8" r="2.4"/><circle cx="102.0" cy="191.0" r="2.4"/><circle cx="104.5" cy="191.3" r="2.4"/><circle cx="107.1" cy="191.6" r="2.4"/><circle cx="109.6" cy="191.9" r="2.4"/><circle cx="112.2" cy="192.2" r="2.4"/><circle cx="114.7" cy="192.5" r="2.4"/><circle cx="117.2" cy="192.8" r="2.4"/><circle cx="119.8" cy="193.2" r="2.4"/><circle cx="122.3" cy="193.6" r="2.4"/><circle cx="124.8" cy="194.0" r="2.4"/><circle cx="127.4" cy="194.4" r="2.4"/><circle cx="129.9" cy="194.8" r="2.4"/><circle cx="132.4" cy="195.3" r="2.4"/><circle cx="135.0" cy="195.8" r="2.4"/><circle cx="137.5" cy="196.4" r="2.4"/><circle cx="140.1" cy="197.0" r="2.4"/><circle cx="142.6" cy="197.6" r="2.4"/><circle cx="145.1" cy="198.3" r="2.4"/><circle cx="147.7" cy="199.2" r="2.4"/><circle cx="150.2" cy="200.1" r="2.4"/><circle cx="152.7" cy="201.1" r="2.4"/><circle cx="155.3" cy="202.4" r="2.4"/><circle cx="157.8" cy="203.9" r="2.4"/><circle cx="160.3" cy="206.6" r="2.4"/><circle cx="162.9" cy="210.0" r="2.4"/><circle cx="165.4" cy="215.5" r="2.4"/><circle cx="209.8" cy="257.2" r="2.4"/><circle cx="212.3" cy="256.4" r="2.4"/><circle cx="214.9" cy="255.5" r="2.4"/><circle cx="217.4" cy="254.7" r="2.4"/><circle cx="219.9" cy="253.9" r="2.4"/><circle cx="222.5" cy="253.1" r="2.4"/></g><g fill="url(#mg)" stroke="#1a9a1a" stroke-width="0.5"><circle cx="167.9" cy="323.1" r="2.4"/><circle cx="167.9" cy="290.0" r="2.4"/><circle cx="170.5" cy="215.5" r="2.4"/><circle cx="173.0" cy="210.0" r="2.4"/><circle cx="175.6" cy="206.6" r="2.4"/><circle cx="178.1" cy="203.9" r="2.4"/><circle cx="180.6" cy="202.4" r="2.4"/><circle cx="183.2" cy="201.1" r="2.4"/><circle cx="185.7" cy="200.1" r="2.4"/><circle cx="188.2" cy="199.2" r="2.4"/><circle cx="190.8" cy="198.3" r="2.4"/><circle cx="193.3" cy="197.6" r="2.4"/><circle cx="195.8" cy="197.0" r="2.4"/><circle cx="198.4" cy="196.4" r="2.4"/><circle cx="200.9" cy="195.8" r="2.4"/><circle cx="203.5" cy="195.3" r="2.4"/><circle cx="206.0" cy="194.8" r="2.4"/><circle cx="208.5" cy="194.5" r="2.4"/><circle cx="211.1" cy="194.2" r="2.4"/><circle cx="213.6" cy="193.9" r="2.4"/><circle cx="216.1" cy="193.6" r="2.4"/><circle cx="218.7" cy="193.3" r="2.4"/><circle cx="221.2" cy="193.1" r="2.4"/><circle cx="223.7" cy="192.9" r="2.4"/><circle cx="170.5" cy="285.0" r="2.4"/><circle cx="173.0" cy="276.0" r="2.4"/><circle cx="175.6" cy="270.8" r="2.4"/><circle cx="178.1" cy="267.1" r="2.4"/><circle cx="180.6" cy="264.2" r="2.4"/><circle cx="183.2" cy="261.8" r="2.4"/><circle cx="185.7" cy="259.8" r="2.4"/><circle cx="188.2" cy="258.1" r="2.4"/><circle cx="190.8" cy="256.6" r="2.4"/><circle cx="193.3" cy="255.2" r="2.4"/><circle cx="195.8" cy="254.0" r="2.4"/><circle cx="198.4" cy="252.9" r="2.4"/><circle cx="200.9" cy="251.8" r="2.4"/><circle cx="203.5" cy="250.9" r="2.4"/><circle cx="206.0" cy="250.0" r="2.4"/><circle cx="208.5" cy="249.1" r="2.4"/><circle cx="211.1" cy="248.3" r="2.4"/><circle cx="213.6" cy="247.6" r="2.4"/><circle cx="216.1" cy="246.9" r="2.4"/><circle cx="218.7" cy="246.2" r="2.4"/><circle cx="221.2" cy="245.6" r="2.4"/><circle cx="223.7" cy="245.0" r="2.4"/><circle cx="226.3" cy="244.4" r="2.4"/><circle cx="228.8" cy="243.9" r="2.4"/><circle cx="231.3" cy="243.4" r="2.4"/><circle cx="233.9" cy="242.8" r="2.4"/><circle cx="236.4" cy="242.4" r="2.4"/><circle cx="239.0" cy="241.9" r="2.4"/><circle cx="241.5" cy="241.4" r="2.4"/><circle cx="244.0" cy="241.0" r="2.4"/><circle cx="246.6" cy="240.6" r="2.4"/><circle cx="249.1" cy="240.2" r="2.4"/><circle cx="251.6" cy="239.8" r="2.4"/><circle cx="254.2" cy="239.4" r="2.4"/><circle cx="256.7" cy="239.0" r="2.4"/><circle cx="165.4" cy="273.4" r="2.4"/><circle cx="164.1" cy="271.1" r="2.4"/><circle cx="162.9" cy="268.7" r="2.4"/><circle cx="161.6" cy="266.3" r="2.4"/><circle cx="160.3" cy="264.0" r="2.4"/><circle cx="159.1" cy="261.6" r="2.4"/><circle cx="157.8" cy="259.2" r="2.4"/><circle cx="156.5" cy="256.9" r="2.4"/><circle cx="79.2" cy="189.0" r="2.4"/><circle cx="81.7" cy="189.2" r="2.4"/><circle cx="84.3" cy="189.4" r="2.4"/><circle cx="86.8" cy="189.6" r="2.4"/><circle cx="89.3" cy="189.8" r="2.4"/><circle cx="91.9" cy="190.0" r="2.4"/><circle cx="94.4" cy="190.3" r="2.4"/><circle cx="96.9" cy="190.5" r="2.4"/><circle cx="99.5" cy="190.8" r="2.4"/><circle cx="102.0" cy="191.0" r="2.4"/><circle cx="104.5" cy="191.3" r="2.4"/><circle cx="107.1" cy="191.6" r="2.4"/><circle cx="109.6" cy="191.9" r="2.4"/><circle cx="112.2" cy="192.2" r="2.4"/><circle cx="114.7" cy="192.5" r="2.4"/><circle cx="117.2" cy="192.8" r="2.4"/><circle cx="119.8" cy="193.2" r="2.4"/><circle cx="122.3" cy="193.6" r="2.4"/><circle cx="124.8" cy="194.0" r="2.4"/><circle cx="127.4" cy="194.4" r="2.4"/><circle cx="129.9" cy="194.8" r="2.4"/><circle cx="132.4" cy="195.3" r="2.4"/><circle cx="135.0" cy="195.8" r="2.4"/><circle cx="137.5" cy="196.4" r="2.4"/><circle cx="140.1" cy="197.0" r="2.4"/><circle cx="142.6" cy="197.6" r="2.4"/><circle cx="145.1" cy="198.3" r="2.4"/><circle cx="147.7" cy="199.2" r="2.4"/><circle cx="150.2" cy="200.1" r="2.4"/><circle cx="152.7" cy="201.1" r="2.4"/><circle cx="155.3" cy="202.4" r="2.4"/><circle cx="157.8" cy="203.9" r="2.4"/><circle cx="160.3" cy="206.6" r="2.4"/><circle cx="162.9" cy="210.0" r="2.4"/><circle cx="165.4" cy="215.5" r="2.4"/></g><g fill="url(#mr)" stroke="#b00000" stroke-width="0.5"><circle cx="167.9" cy="307.2" r="2.4"/><circle cx="167.9" cy="291.6" r="2.4"/><circle cx="167.9" cy="298.2" r="2.4"/><circle cx="167.9" cy="301.6" r="2.4"/><circle cx="170.5" cy="214.7" r="2.4"/><circle cx="173.0" cy="209.2" r="2.4"/><circle cx="175.6" cy="205.8" r="2.4"/><circle cx="178.1" cy="203.1" r="2.4"/><circle cx="180.6" cy="201.6" r="2.4"/><circle cx="183.2" cy="200.3" r="2.4"/><circle cx="185.7" cy="199.2" r="2.4"/><circle cx="188.2" cy="198.3" r="2.4"/><circle cx="190.8" cy="197.5" r="2.4"/><circle cx="193.3" cy="196.8" r="2.4"/><circle cx="195.8" cy="196.1" r="2.4"/><circle cx="198.4" cy="195.5" r="2.4"/><circle cx="200.9" cy="195.0" r="2.4"/><circle cx="203.5" cy="194.5" r="2.4"/><circle cx="206.0" cy="194.0" r="2.4"/><circle cx="208.5" cy="193.6" r="2.4"/><circle cx="211.1" cy="193.3" r="2.4"/><circle cx="213.6" cy="193.0" r="2.4"/><circle cx="216.1" cy="192.8" r="2.4"/><circle cx="218.7" cy="192.5" r="2.4"/><circle cx="221.2" cy="192.3" r="2.4"/><circle cx="223.7" cy="192.0" r="2.4"/><circle cx="226.3" cy="191.8" r="2.4"/><circle cx="228.8" cy="191.6" r="2.4"/><circle cx="231.3" cy="191.5" r="2.4"/><circle cx="170.5" cy="294.1" r="2.4"/><circle cx="173.0" cy="284.1" r="2.4"/><circle cx="175.6" cy="278.3" r="2.4"/><circle cx="178.1" cy="274.2" r="2.4"/><circle cx="180.6" cy="271.0" r="2.4"/><circle cx="183.2" cy="268.3" r="2.4"/><circle cx="185.7" cy="266.1" r="2.4"/><circle cx="188.2" cy="264.2" r="2.4"/><circle cx="190.8" cy="262.5" r="2.4"/><circle cx="193.3" cy="261.0" r="2.4"/><circle cx="195.8" cy="259.6" r="2.4"/><circle cx="198.4" cy="258.4" r="2.4"/><circle cx="200.9" cy="257.2" r="2.4"/><circle cx="203.5" cy="256.2" r="2.4"/><circle cx="206.0" cy="255.2" r="2.4"/><circle cx="208.5" cy="254.2" r="2.4"/><circle cx="211.1" cy="253.4" r="2.4"/><circle cx="213.6" cy="252.6" r="2.4"/><circle cx="216.1" cy="251.8" r="2.4"/><circle cx="218.7" cy="251.0" r="2.4"/><circle cx="221.2" cy="250.3" r="2.4"/><circle cx="223.7" cy="249.7" r="2.4"/><circle cx="226.3" cy="249.0" r="2.4"/><circle cx="228.8" cy="248.4" r="2.4"/><circle cx="231.3" cy="247.8" r="2.4"/><circle cx="233.9" cy="247.3" r="2.4"/><circle cx="236.4" cy="246.7" r="2.4"/><circle cx="239.0" cy="246.2" r="2.4"/><circle cx="241.5" cy="245.7" r="2.4"/><circle cx="244.0" cy="245.2" r="2.4"/><circle cx="246.6" cy="244.7" r="2.4"/><circle cx="249.1" cy="244.3" r="2.4"/><circle cx="251.6" cy="243.8" r="2.4"/><circle cx="254.2" cy="243.4" r="2.4"/><circle cx="256.7" cy="243.0" r="2.4"/><circle cx="165.4" cy="266.8" r="2.4"/><circle cx="164.1" cy="264.1" r="2.4"/><circle cx="162.9" cy="261.4" r="2.4"/><circle cx="161.6" cy="258.7" r="2.4"/><circle cx="160.3" cy="256.0" r="2.4"/><circle cx="159.1" cy="253.3" r="2.4"/><circle cx="157.8" cy="250.7" r="2.4"/><circle cx="156.5" cy="248.0" r="2.4"/><circle cx="155.3" cy="245.3" r="2.4"/><circle cx="79.2" cy="188.1" r="2.4"/><circle cx="81.7" cy="188.3" r="2.4"/><circle cx="84.3" cy="188.6" r="2.4"/><circle cx="86.8" cy="188.8" r="2.4"/><circle cx="89.3" cy="189.0" r="2.4"/><circle cx="91.9" cy="189.2" r="2.4"/><circle cx="94.4" cy="189.4" r="2.4"/><circle cx="96.9" cy="189.7" r="2.4"/><circle cx="99.5" cy="189.9" r="2.4"/><circle cx="102.0" cy="190.2" r="2.4"/><circle cx="104.5" cy="190.5" r="2.4"/><circle cx="107.1" cy="190.7" r="2.4"/><circle cx="109.6" cy="191.0" r="2.4"/><circle cx="112.2" cy="191.3" r="2.4"/><circle cx="114.7" cy="191.7" r="2.4"/><circle cx="117.2" cy="192.0" r="2.4"/><circle cx="119.8" cy="192.4" r="2.4"/><circle cx="122.3" cy="192.7" r="2.4"/><circle cx="124.8" cy="193.1" r="2.4"/><circle cx="127.4" cy="193.5" r="2.4"/><circle cx="129.9" cy="194.0" r="2.4"/><circle cx="132.4" cy="194.5" r="2.4"/><circle cx="135.0" cy="195.0" r="2.4"/><circle cx="137.5" cy="195.5" r="2.4"/><circle cx="140.1" cy="196.1" r="2.4"/><circle cx="142.6" cy="196.8" r="2.4"/><circle cx="145.1" cy="197.5" r="2.4"/><circle cx="147.7" cy="198.3" r="2.4"/><circle cx="150.2" cy="199.2" r="2.4"/><circle cx="152.7" cy="200.3" r="2.4"/><circle cx="155.3" cy="201.6" r="2.4"/><circle cx="157.8" cy="203.1" r="2.4"/><circle cx="160.3" cy="205.8" r="2.4"/><circle cx="162.9" cy="209.2" r="2.4"/><circle cx="165.4" cy="214.7" r="2.4"/><circle cx="233.9" cy="221.3" r="2.4"/><circle cx="236.4" cy="221.9" r="2.4"/><circle cx="239.0" cy="222.2" r="2.4"/><circle cx="241.5" cy="221.5" r="2.4"/><circle cx="244.0" cy="221.4" r="2.4"/><circle cx="246.6" cy="222.1" r="2.4"/><circle cx="249.1" cy="222.1" r="2.4"/><circle cx="251.6" cy="221.4" r="2.4"/><circle cx="254.2" cy="221.6" r="2.4"/></g><g fill="url(#mo)" stroke="#c88000" stroke-width="0.5"><circle cx="167.9" cy="333.3" r="2.4"/><circle cx="167.9" cy="294.9" r="2.4"/><circle cx="167.9" cy="318.1" r="2.4"/><circle cx="170.5" cy="216.5" r="2.4"/><circle cx="173.0" cy="211.0" r="2.4"/><circle cx="175.6" cy="207.6" r="2.4"/><circle cx="178.1" cy="204.9" r="2.4"/><circle cx="180.6" cy="203.4" r="2.4"/><circle cx="183.2" cy="202.1" r="2.4"/><circle cx="185.7" cy="201.1" r="2.4"/><circle cx="188.2" cy="200.1" r="2.4"/><circle cx="190.8" cy="199.3" r="2.4"/><circle cx="193.3" cy="198.6" r="2.4"/><circle cx="195.8" cy="198.0" r="2.4"/><circle cx="198.4" cy="197.4" r="2.4"/><circle cx="200.9" cy="196.8" r="2.4"/><circle cx="203.5" cy="196.3" r="2.4"/><circle cx="206.0" cy="195.8" r="2.4"/><circle cx="208.5" cy="195.5" r="2.4"/><circle cx="211.1" cy="195.1" r="2.4"/><circle cx="213.6" cy="194.9" r="2.4"/><circle cx="216.1" cy="194.6" r="2.4"/><circle cx="218.7" cy="194.3" r="2.4"/><circle cx="221.2" cy="194.1" r="2.4"/><circle cx="223.7" cy="193.9" r="2.4"/><circle cx="226.3" cy="193.7" r="2.4"/><circle cx="228.8" cy="193.5" r="2.4"/><circle cx="231.3" cy="193.3" r="2.4"/><circle cx="233.9" cy="193.1" r="2.4"/><circle cx="236.4" cy="192.9" r="2.4"/><circle cx="170.5" cy="279.5" r="2.4"/><circle cx="173.0" cy="271.6" r="2.4"/><circle cx="175.6" cy="266.9" r="2.4"/><circle cx="178.1" cy="263.6" r="2.4"/><circle cx="180.6" cy="261.0" r="2.4"/><circle cx="183.2" cy="258.9" r="2.4"/><circle cx="185.7" cy="257.2" r="2.4"/><circle cx="188.2" cy="255.6" r="2.4"/><circle cx="190.8" cy="254.3" r="2.4"/><circle cx="193.3" cy="253.1" r="2.4"/><circle cx="195.8" cy="252.0" r="2.4"/><circle cx="198.4" cy="251.0" r="2.4"/><circle cx="200.9" cy="250.0" r="2.4"/><circle cx="203.5" cy="249.2" r="2.4"/><circle cx="206.0" cy="248.4" r="2.4"/><circle cx="208.5" cy="247.7" r="2.4"/><circle cx="211.1" cy="247.0" r="2.4"/><circle cx="213.6" cy="246.3" r="2.4"/><circle cx="216.1" cy="245.7" r="2.4"/><circle cx="218.7" cy="245.1" r="2.4"/><circle cx="221.2" cy="244.5" r="2.4"/><circle cx="223.7" cy="244.0" r="2.4"/><circle cx="226.3" cy="243.5" r="2.4"/><circle cx="228.8" cy="243.0" r="2.4"/><circle cx="231.3" cy="242.5" r="2.4"/><circle cx="233.9" cy="242.1" r="2.4"/><circle cx="236.4" cy="241.6" r="2.4"/><circle cx="239.0" cy="241.2" r="2.4"/><circle cx="241.5" cy="240.8" r="2.4"/><circle cx="244.0" cy="240.4" r="2.4"/><circle cx="246.6" cy="240.0" r="2.4"/><circle cx="249.1" cy="239.7" r="2.4"/><circle cx="251.6" cy="239.3" r="2.4"/><circle cx="254.2" cy="239.0" r="2.4"/><circle cx="256.7" cy="238.7" r="2.4"/><circle cx="165.4" cy="275.1" r="2.4"/><circle cx="164.1" cy="272.8" r="2.4"/><circle cx="162.9" cy="270.4" r="2.4"/><circle cx="161.6" cy="268.1" r="2.4"/><circle cx="160.3" cy="265.8" r="2.4"/><circle cx="159.1" cy="263.5" r="2.4"/><circle cx="157.8" cy="261.2" r="2.4"/><circle cx="156.5" cy="258.9" r="2.4"/><circle cx="155.3" cy="256.5" r="2.4"/><circle cx="154.0" cy="254.2" r="2.4"/><circle cx="152.7" cy="251.9" r="2.4"/><circle cx="79.2" cy="190.0" r="2.4"/><circle cx="81.7" cy="190.2" r="2.4"/><circle cx="84.3" cy="190.4" r="2.4"/><circle cx="86.8" cy="190.6" r="2.4"/><circle cx="89.3" cy="190.8" r="2.4"/><circle cx="91.9" cy="191.0" r="2.4"/><circle cx="94.4" cy="191.3" r="2.4"/><circle cx="96.9" cy="191.5" r="2.4"/><circle cx="99.5" cy="191.8" r="2.4"/><circle cx="102.0" cy="192.0" r="2.4"/><circle cx="104.5" cy="192.3" r="2.4"/><circle cx="107.1" cy="192.6" r="2.4"/><circle cx="109.6" cy="192.9" r="2.4"/><circle cx="112.2" cy="193.2" r="2.4"/><circle cx="114.7" cy="193.5" r="2.4"/><circle cx="117.2" cy="193.8" r="2.4"/><circle cx="119.8" cy="194.2" r="2.4"/><circle cx="122.3" cy="194.6" r="2.4"/><circle cx="124.8" cy="194.9" r="2.4"/><circle cx="127.4" cy="195.4" r="2.4"/><circle cx="129.9" cy="195.8" r="2.4"/><circle cx="132.4" cy="196.3" r="2.4"/><circle cx="135.0" cy="196.8" r="2.4"/><circle cx="137.5" cy="197.4" r="2.4"/><circle cx="140.1" cy="198.0" r="2.4"/><circle cx="142.6" cy="198.6" r="2.4"/><circle cx="145.1" cy="199.3" r="2.4"/><circle cx="147.7" cy="200.1" r="2.4"/><circle cx="150.2" cy="201.1" r="2.4"/><circle cx="152.7" cy="202.1" r="2.4"/><circle cx="155.3" cy="203.4" r="2.4"/><circle cx="157.8" cy="204.9" r="2.4"/><circle cx="160.3" cy="207.6" r="2.4"/><circle cx="162.9" cy="211.0" r="2.4"/><circle cx="165.4" cy="216.5" r="2.4"/></g><g fill="url(#mp)" stroke="#e468aa" stroke-width="0.5"><circle cx="167.9" cy="312.6" r="2.4"/><circle cx="167.9" cy="288.3" r="2.4"/><circle cx="167.9" cy="306.5" r="2.4"/><circle cx="167.9" cy="327.0" r="2.4"/><circle cx="170.5" cy="216.0" r="2.4"/><circle cx="173.0" cy="210.5" r="2.4"/><circle cx="175.6" cy="207.1" r="2.4"/><circle cx="178.1" cy="204.4" r="2.4"/><circle cx="180.6" cy="202.9" r="2.4"/><circle cx="183.2" cy="201.6" r="2.4"/><circle cx="185.7" cy="200.6" r="2.4"/><circle cx="188.2" cy="199.7" r="2.4"/><circle cx="190.8" cy="198.8" r="2.4"/><circle cx="193.3" cy="198.1" r="2.4"/><circle cx="195.8" cy="197.5" r="2.4"/><circle cx="198.4" cy="196.9" r="2.4"/><circle cx="200.9" cy="196.3" r="2.4"/><circle cx="203.5" cy="195.8" r="2.4"/><circle cx="206.0" cy="195.3" r="2.4"/><circle cx="208.5" cy="195.0" r="2.4"/><circle cx="211.1" cy="194.6" r="2.4"/><circle cx="213.6" cy="194.4" r="2.4"/><circle cx="216.1" cy="194.1" r="2.4"/><circle cx="218.7" cy="193.8" r="2.4"/><circle cx="221.2" cy="193.6" r="2.4"/><circle cx="223.7" cy="193.4" r="2.4"/><circle cx="226.3" cy="193.2" r="2.4"/><circle cx="228.8" cy="193.0" r="2.4"/><circle cx="231.3" cy="192.8" r="2.4"/><circle cx="233.9" cy="192.6" r="2.4"/><circle cx="236.4" cy="192.5" r="2.4"/><circle cx="170.5" cy="290.5" r="2.4"/><circle cx="173.0" cy="280.7" r="2.4"/><circle cx="175.6" cy="275.1" r="2.4"/><circle cx="178.1" cy="271.0" r="2.4"/><circle cx="180.6" cy="267.9" r="2.4"/><circle cx="183.2" cy="265.3" r="2.4"/><circle cx="185.7" cy="263.2" r="2.4"/><circle cx="188.2" cy="261.3" r="2.4"/><circle cx="190.8" cy="259.7" r="2.4"/><circle cx="193.3" cy="258.2" r="2.4"/><circle cx="195.8" cy="256.9" r="2.4"/><circle cx="198.4" cy="255.6" r="2.4"/><circle cx="200.9" cy="254.5" r="2.4"/><circle cx="203.5" cy="253.5" r="2.4"/><circle cx="206.0" cy="252.5" r="2.4"/><circle cx="208.5" cy="251.6" r="2.4"/><circle cx="211.1" cy="250.8" r="2.4"/><circle cx="213.6" cy="250.0" r="2.4"/><circle cx="216.1" cy="249.2" r="2.4"/><circle cx="218.7" cy="248.5" r="2.4"/><circle cx="221.2" cy="247.8" r="2.4"/><circle cx="223.7" cy="247.1" r="2.4"/><circle cx="226.3" cy="246.5" r="2.4"/><circle cx="228.8" cy="245.9" r="2.4"/><circle cx="231.3" cy="245.3" r="2.4"/><circle cx="233.9" cy="244.8" r="2.4"/><circle cx="236.4" cy="244.3" r="2.4"/><circle cx="239.0" cy="243.8" r="2.4"/><circle cx="241.5" cy="243.3" r="2.4"/><circle cx="244.0" cy="242.8" r="2.4"/><circle cx="246.6" cy="242.3" r="2.4"/><circle cx="249.1" cy="241.9" r="2.4"/><circle cx="251.6" cy="241.5" r="2.4"/><circle cx="254.2" cy="241.0" r="2.4"/><circle cx="256.7" cy="240.6" r="2.4"/><circle cx="165.4" cy="266.8" r="2.4"/><circle cx="164.1" cy="264.3" r="2.4"/><circle cx="162.9" cy="261.8" r="2.4"/><circle cx="161.6" cy="259.3" r="2.4"/><circle cx="160.3" cy="256.9" r="2.4"/><circle cx="159.1" cy="254.4" r="2.4"/><circle cx="157.8" cy="251.9" r="2.4"/><circle cx="79.2" cy="189.5" r="2.4"/><circle cx="81.7" cy="189.7" r="2.4"/><circle cx="84.3" cy="189.9" r="2.4"/><circle cx="86.8" cy="190.1" r="2.4"/><circle cx="89.3" cy="190.3" r="2.4"/><circle cx="91.9" cy="190.5" r="2.4"/><circle cx="94.4" cy="190.8" r="2.4"/><circle cx="96.9" cy="191.0" r="2.4"/><circle cx="99.5" cy="191.3" r="2.4"/><circle cx="102.0" cy="191.5" r="2.4"/><circle cx="104.5" cy="191.8" r="2.4"/><circle cx="107.1" cy="192.1" r="2.4"/><circle cx="109.6" cy="192.4" r="2.4"/><circle cx="112.2" cy="192.7" r="2.4"/><circle cx="114.7" cy="193.0" r="2.4"/><circle cx="117.2" cy="193.3" r="2.4"/><circle cx="119.8" cy="193.7" r="2.4"/><circle cx="122.3" cy="194.1" r="2.4"/><circle cx="124.8" cy="194.5" r="2.4"/><circle cx="127.4" cy="194.9" r="2.4"/><circle cx="129.9" cy="195.3" r="2.4"/><circle cx="132.4" cy="195.8" r="2.4"/><circle cx="135.0" cy="196.3" r="2.4"/><circle cx="137.5" cy="196.9" r="2.4"/><circle cx="140.1" cy="197.5" r="2.4"/><circle cx="142.6" cy="198.1" r="2.4"/><circle cx="145.1" cy="198.8" r="2.4"/><circle cx="147.7" cy="199.7" r="2.4"/><circle cx="150.2" cy="200.6" r="2.4"/><circle cx="152.7" cy="201.6" r="2.4"/><circle cx="155.3" cy="202.9" r="2.4"/><circle cx="157.8" cy="204.4" r="2.4"/><circle cx="160.3" cy="207.1" r="2.4"/><circle cx="162.9" cy="210.5" r="2.4"/><circle cx="165.4" cy="216.0" r="2.4"/></g><rect x="214" y="290.3" width="44.4" height="56.5" fill="#000"/><rect x="211.4" y="287.4" width="44.8" height="56.6" fill="#fff" stroke="#444" stroke-width="0.8"/><line x1="216.3" y1="294.6" x2="233.3" y2="294.6" stroke="#222" stroke-width="0.9"/><circle cx="225.3" cy="294.6" r="2.1" fill="url(#mk)" stroke="#000" stroke-width="0.4"/><text x="236.6" y="297.70000000000005" font-size="8.6" fill="#1a1a1a">0</text><circle cx="243.5" cy="294.0" r="1.05" fill="none" stroke="#333" stroke-width="0.55"/><line x1="216.3" y1="305.70000000000005" x2="233.3" y2="305.70000000000005" stroke="#9ee49e" stroke-width="0.9"/><circle cx="225.3" cy="305.70000000000005" r="2.1" fill="url(#mg)" stroke="#1a9a1a" stroke-width="0.4"/><text x="236.6" y="308.80000000000007" font-size="8.6" fill="#1a1a1a">60</text><circle cx="248.29999999999998" cy="305.1" r="1.05" fill="none" stroke="#333" stroke-width="0.55"/><line x1="216.3" y1="316.8" x2="233.3" y2="316.8" stroke="#f08a8a" stroke-width="0.9"/><circle cx="225.3" cy="316.8" r="2.1" fill="url(#mr)" stroke="#b00000" stroke-width="0.4"/><text x="236.6" y="319.90000000000003" font-size="8.6" fill="#1a1a1a">120</text><circle cx="253.1" cy="316.2" r="1.05" fill="none" stroke="#333" stroke-width="0.55"/><line x1="216.3" y1="327.90000000000003" x2="233.3" y2="327.90000000000003" stroke="#f6c878" stroke-width="0.9"/><circle cx="225.3" cy="327.90000000000003" r="2.1" fill="url(#mo)" stroke="#c88000" stroke-width="0.4"/><text x="236.6" y="331.00000000000006" font-size="8.6" fill="#1a1a1a">180</text><circle cx="253.1" cy="327.3" r="1.05" fill="none" stroke="#333" stroke-width="0.55"/><line x1="216.3" y1="339.0" x2="233.3" y2="339.0" stroke="#f6bcdc" stroke-width="0.9"/><circle cx="225.3" cy="339.0" r="2.1" fill="url(#mp)" stroke="#e468aa" stroke-width="0.4"/><text x="236.6" y="342.1" font-size="8.6" fill="#1a1a1a">360</text><circle cx="253.1" cy="338.4" r="1.05" fill="none" stroke="#333" stroke-width="0.55"/><text x="302.2" y="173.5" font-size="15.5" fill="#2a2a2a">(d)</text><line x1="393.0" y1="350.9" x2="393.0" y2="347.29999999999995" stroke="#3a3a3a" stroke-width="1.1"/><line x1="393.0" y1="168.6" x2="393.0" y2="172.2" stroke="#3a3a3a" stroke-width="1.1"/><text x="393.0" y="364" font-size="10.5" font-weight="bold" text-anchor="middle" fill="#111">0</text><line x1="449.5" y1="350.9" x2="449.5" y2="347.29999999999995" stroke="#3a3a3a" stroke-width="1.1"/><line x1="449.5" y1="168.6" x2="449.5" y2="172.2" stroke="#3a3a3a" stroke-width="1.1"/><text x="449.5" y="364" font-size="10.5" font-weight="bold" text-anchor="middle" fill="#111">60</text><line x1="506.0" y1="350.9" x2="506.0" y2="347.29999999999995" stroke="#3a3a3a" stroke-width="1.1"/><line x1="506.0" y1="168.6" x2="506.0" y2="172.2" stroke="#3a3a3a" stroke-width="1.1"/><text x="506.0" y="364" font-size="10.5" font-weight="bold" text-anchor="middle" fill="#111">120</text><line x1="562.5" y1="350.9" x2="562.5" y2="347.29999999999995" stroke="#3a3a3a" stroke-width="1.1"/><line x1="562.5" y1="168.6" x2="562.5" y2="172.2" stroke="#3a3a3a" stroke-width="1.1"/><text x="562.5" y="364" font-size="10.5" font-weight="bold" text-anchor="middle" fill="#111">180</text><line x1="619.0" y1="350.9" x2="619.0" y2="347.29999999999995" stroke="#3a3a3a" stroke-width="1.1"/><line x1="619.0" y1="168.6" x2="619.0" y2="172.2" stroke="#3a3a3a" stroke-width="1.1"/><text x="619.0" y="364" font-size="10.5" font-weight="bold" text-anchor="middle" fill="#111">360</text><line x1="364.9" y1="335.6" x2="368.5" y2="335.6" stroke="#3a3a3a" stroke-width="1.1"/><line x1="647.45" y1="335.6" x2="643.85" y2="335.6" stroke="#3a3a3a" stroke-width="1.1"/><text x="357.8" y="339.5" font-size="10.5" font-weight="bold" text-anchor="middle" fill="#111">0</text><line x1="364.9" y1="305.22" x2="368.5" y2="305.22" stroke="#3a3a3a" stroke-width="1.1"/><line x1="647.45" y1="305.22" x2="643.85" y2="305.22" stroke="#3a3a3a" stroke-width="1.1"/><text x="360.8" y="309.12" font-size="10.5" font-weight="bold" text-anchor="end" fill="#111">1x10<tspan font-size="6.2" dy="-6.6" dx="1">3</tspan></text><line x1="364.9" y1="274.84000000000003" x2="368.5" y2="274.84000000000003" stroke="#3a3a3a" stroke-width="1.1"/><line x1="647.45" y1="274.84000000000003" x2="643.85" y2="274.84000000000003" stroke="#3a3a3a" stroke-width="1.1"/><text x="360.8" y="278.74" font-size="10.5" font-weight="bold" text-anchor="end" fill="#111">2x10<tspan font-size="6.2" dy="-6.6" dx="1">3</tspan></text><line x1="364.9" y1="244.46000000000004" x2="368.5" y2="244.46000000000004" stroke="#3a3a3a" stroke-width="1.1"/><line x1="647.45" y1="244.46000000000004" x2="643.85" y2="244.46000000000004" stroke="#3a3a3a" stroke-width="1.1"/><text x="360.8" y="248.36000000000004" font-size="10.5" font-weight="bold" text-anchor="end" fill="#111">3x10<tspan font-size="6.2" dy="-6.6" dx="1">3</tspan></text><line x1="364.9" y1="214.08000000000004" x2="368.5" y2="214.08000000000004" stroke="#3a3a3a" stroke-width="1.1"/><line x1="647.45" y1="214.08000000000004" x2="643.85" y2="214.08000000000004" stroke="#3a3a3a" stroke-width="1.1"/><text x="360.8" y="217.98000000000005" font-size="10.5" font-weight="bold" text-anchor="end" fill="#111">4x10<tspan font-size="6.2" dy="-6.6" dx="1">3</tspan></text><line x1="364.9" y1="183.70000000000002" x2="368.5" y2="183.70000000000002" stroke="#3a3a3a" stroke-width="1.1"/><line x1="647.45" y1="183.70000000000002" x2="643.85" y2="183.70000000000002" stroke="#3a3a3a" stroke-width="1.1"/><text x="360.8" y="187.60000000000002" font-size="10.5" font-weight="bold" text-anchor="end" fill="#111">5x10<tspan font-size="6.2" dy="-6.6" dx="1">3</tspan></text><line x1="364.9" y1="168.6" x2="364.9" y2="350.9" stroke="#6a6a6a" stroke-width="1.6"/><line x1="364.9" y1="168.6" x2="647.45" y2="168.6" stroke="#333" stroke-width="1.1"/><line x1="647.45" y1="168.6" x2="647.45" y2="350.9" stroke="#333" stroke-width="1.1"/><line x1="364.9" y1="350.9" x2="647.45" y2="350.9" stroke="#444" stroke-width="1.8"/><text x="507.8" y="385.8" font-size="14" font-weight="bold" text-anchor="middle" fill="#111">Bending angle (Degree)</text><text transform="translate(318,268.3) rotate(-90)" font-size="14.4" font-weight="bold" text-anchor="middle" fill="#111">LRS / HRS Ratio</text><rect x="537" y="183.7" width="85" height="23.1" fill="#000"/><rect x="534.2" y="181" width="85" height="23.4" fill="#fff" stroke="#555" stroke-width="0.8"/><text x="576.9" y="198.1" font-size="13.8" font-weight="bold" text-anchor="middle" fill="#111">Read @ 1 V</text><g stroke="#e52b2b" stroke-width="1.5" fill="none"><line x1="393.1" y1="188" x2="393.1" y2="229"/><line x1="393.1" y1="270.6" x2="393.1" y2="304"/><rect x="379.20000000000005" y="229" width="27.8" height="41.60000000000002"/><line x1="379.20000000000005" y1="255.8" x2="407.0" y2="255.8"/><rect x="390.1" y="248.1" width="6" height="6" stroke-width="1"/><path d="M389.3,184.2 L396.90000000000003,191.4 M396.90000000000003,184.2 L389.3,191.4 M389.90000000000003,188 L396.3,188" stroke-width="1.2"/><path d="M389.3,300.2 L396.90000000000003,307.4 M396.90000000000003,300.2 L389.3,307.4 M389.90000000000003,304 L396.3,304" stroke-width="1.2"/></g><g stroke="#2ee02e" stroke-width="1.5" fill="none"><line x1="449.5" y1="242.7" x2="449.5" y2="265.2"/><line x1="449.5" y1="296.7" x2="449.5" y2="301.6"/><rect x="435.6" y="265.2" width="27.8" height="31.5"/><line x1="435.6" y1="283.6" x2="463.4" y2="283.6"/><rect x="446.5" y="277.8" width="6" height="6" stroke-width="1"/><path d="M445.7,238.89999999999998 L453.3,246.1 M453.3,238.89999999999998 L445.7,246.1 M446.3,242.7 L452.7,242.7" stroke-width="1.2"/><path d="M445.7,297.8 L453.3,305.0 M453.3,297.8 L445.7,305.0 M446.3,301.6 L452.7,301.6" stroke-width="1.2"/></g><g stroke="#2b2bd0" stroke-width="1.5" fill="none"><line x1="506.1" y1="266.1" x2="506.1" y2="293.7"/><line x1="506.1" y1="305.7" x2="506.1" y2="309.1"/><rect x="492.20000000000005" y="293.7" width="27.8" height="12.0"/><line x1="492.20000000000005" y1="299.1" x2="520.0" y2="299.1"/><rect x="503.1" y="294.6" width="6" height="6" stroke-width="1"/><path d="M502.3,262.3 L509.90000000000003,269.5 M509.90000000000003,262.3 L502.3,269.5 M502.90000000000003,266.1 L509.3,266.1" stroke-width="1.2"/><path d="M502.3,305.3 L509.90000000000003,312.5 M509.90000000000003,305.3 L502.3,312.5 M502.90000000000003,309.1 L509.3,309.1" stroke-width="1.2"/></g><g stroke="#2be6e6" stroke-width="1.5" fill="none"><line x1="562.5" y1="267.5" x2="562.5" y2="288"/><line x1="562.5" y1="306.8" x2="562.5" y2="327"/><rect x="548.6" y="288" width="27.8" height="18.80000000000001"/><line x1="548.6" y1="294.7" x2="576.4" y2="294.7"/><rect x="559.5" y="296" width="6" height="6" stroke-width="1"/><path d="M558.7,263.7 L566.3,270.9 M566.3,263.7 L558.7,270.9 M559.3,267.5 L565.7,267.5" stroke-width="1.2"/><path d="M558.7,323.2 L566.3,330.4 M566.3,323.2 L558.7,330.4 M559.3,327 L565.7,327" stroke-width="1.2"/></g><g stroke="#e63ce6" stroke-width="1.5" fill="none"><line x1="619" y1="292.8" x2="619" y2="302.4"/><line x1="619" y1="312.2" x2="619" y2="318.4"/><rect x="605.1" y="302.4" width="27.8" height="9.800000000000011"/><line x1="605.1" y1="309.7" x2="632.9" y2="309.7"/><rect x="616" y="304.5" width="6" height="6" stroke-width="1"/><path d="M615.2,289.0 L622.8,296.2 M622.8,289.0 L615.2,296.2 M615.8,292.8 L622.2,292.8" stroke-width="1.2"/><path d="M615.2,314.59999999999997 L622.8,321.79999999999995 M622.8,314.59999999999997 L615.2,321.79999999999995 M615.8,318.4 L622.2,318.4" stroke-width="1.2"/><path d="M615.2,292.5 L622.8,299.7 M622.8,292.5 L615.2,299.7 M615.8,296.3 L622.2,296.3" stroke-width="1.2"/><path d="M615.2,310.8 L622.8,318.0 M622.8,310.8 L615.2,318.0 M615.8,314.6 L622.2,314.6" stroke-width="1.2"/></g></svg>
</div></body></html>
